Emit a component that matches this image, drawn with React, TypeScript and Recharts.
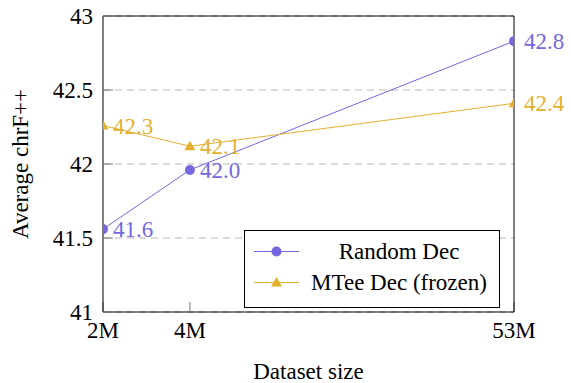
import {
  LineChart,
  Line,
  XAxis,
  YAxis,
  CartesianGrid,
  Legend,
  LabelList,
} from "recharts";

const datasetSizes = [2, 4, 53];
const randomDec = [41.56, 41.96, 42.83];
const mteeDec = [42.26, 42.12, 42.41];
const xTicks = [2, 4, 53];
const yTicks = [41, 41.5, 42, 42.5, 43];

const PURPLE = "#7467e0";
const GOLD = "#e3b030";
const FONT = "'Liberation Serif', 'DejaVu Serif', serif";

const data = datasetSizes.map((size, i) => ({
  size,
  random: randomDec[i],
  mtee: mteeDec[i],
}));

function Triangle(props: any) {
  const { cx, cy, index } = props;
  if (cx == null || cy == null) return null;
  return (
    <polygon
      key={`tri-${index}`}
      points={`${cx - 5.5},${cy + 4} ${cx + 5.5},${cy + 4} ${cx},${cy - 5.5}`}
      fill={GOLD}
    />
  );
}

function LegendBox() {
  const rows = [
    { name: "Random Dec", color: PURPLE, shape: "circle" },
    { name: "MTee Dec (frozen)", color: GOLD, shape: "triangle" },
  ];
  return (
    <div
      style={{
        width: 254,
        height: 71,
        border: "1px solid #000",
        background: "#fff",
        paddingTop: 5,
        boxSizing: "content-box",
        fontFamily: FONT,
        fontSize: 23,
        color: "#000",
      }}
    >
      {rows.map((r) => (
        <div key={r.name} style={{ display: "flex", alignItems: "center", height: 31 }}>
          <svg width={54} height={31} style={{ flex: "none" }}>
            <line x1={9} x2={54} y1={15.5} y2={15.5} stroke={r.color} strokeWidth={1} />
            {r.shape === "circle" ? (
              <circle cx={31.5} cy={15.5} r={5} fill={r.color} />
            ) : (
              <polygon points="26,19.5 37,19.5 31.5,10" fill={r.color} />
            )}
          </svg>
          <span style={{ flex: 1, textAlign: "center", lineHeight: "31px" }}>{r.name}</span>
        </div>
      ))}
    </div>
  );
}

export default function App() {
  return (
    <div style={{ position: "absolute", left: 0, top: 0, background: "#fff", fontFamily: FONT }}>
      <LineChart
        width={571}
        height={383}
        data={data}
        margin={{ top: 15, right: 56, bottom: 31, left: 0 }}
        style={{ fontFamily: FONT }}
      >
        <CartesianGrid vertical={false} stroke="#b8b8b8" strokeDasharray="7 5" />
        <XAxis
          dataKey="size"
          type="number"
          scale="log"
          domain={[2, 53]}
          ticks={xTicks}
          tickFormatter={(v: number) => `${v}M`}
          height={40}
          axisLine={{ stroke: "#000" }}
          tickLine={{ stroke: "#777" }}
          tickSize={-10}
          tickMargin={20}
          tick={{ fill: "#000", fontSize: 23, style: { fontFamily: FONT } }}
          interval={0}
          allowDataOverflow
          label={{
            value: "Dataset size",
            position: "bottom",
            offset: 11,
            fill: "#000",
            fontSize: 23,
            style: { fontFamily: FONT },
          }}
        />
        <XAxis
          xAxisId="top"
          orientation="top"
          dataKey="size"
          type="number"
          scale="log"
          domain={[2, 53]}
          ticks={xTicks}
          height={1}
          axisLine={{ stroke: "#000" }}
          tickLine={{ stroke: "#777" }}
          tickSize={-10}
          tick={false}
          interval={0}
          allowDataOverflow
        />
        <YAxis
          type="number"
          domain={[41, 43]}
          ticks={yTicks}
          width={103}
          axisLine={{ stroke: "#000" }}
          tickLine={{ stroke: "#777" }}
          tickSize={-10}
          tickMargin={20}
          tick={{ fill: "#000", fontSize: 23, style: { fontFamily: FONT } }}
          interval={0}
          allowDataOverflow
          label={{
            value: "Average chrF++",
            angle: -90,
            position: "insideLeft",
            offset: 20,
            fill: "#000",
            fontSize: 23,
            style: { textAnchor: "middle", fontFamily: FONT },
          }}
        />
        <YAxis
          yAxisId="right"
          orientation="right"
          type="number"
          domain={[41, 43]}
          ticks={yTicks}
          width={1}
          axisLine={{ stroke: "#000" }}
          tickLine={{ stroke: "#777" }}
          tickSize={-10}
          tick={false}
          interval={0}
          allowDataOverflow
        />
        <Legend
          layout="vertical"
          align="center"
          verticalAlign="middle"
          content={() => <LegendBox />}
          wrapperStyle={{ position: "absolute", left: 244, top: 230, width: "auto", height: "auto" }}
        />
        <Line
          dataKey="random"
          name="Random Dec"
          stroke={PURPLE}
          strokeWidth={1}
          dot={{ r: 5, fill: PURPLE, stroke: "none" }}
          activeDot={false}
          isAnimationActive={false}
        >
          <LabelList
            dataKey="random"
            position="right"
            offset={10}
            formatter={(v: any) => Number(v).toFixed(1)}
            fill={PURPLE}
            fontSize={23}
            style={{ fontFamily: FONT }}
          />
        </Line>
        <Line
          dataKey="mtee"
          name="MTee Dec (frozen)"
          stroke={GOLD}
          strokeWidth={1}
          dot={Triangle}
          activeDot={false}
          isAnimationActive={false}
        >
          <LabelList
            dataKey="mtee"
            position="right"
            offset={10}
            formatter={(v: any) => Number(v).toFixed(1)}
            fill={GOLD}
            fontSize={23}
            style={{ fontFamily: FONT }}
          />
        </Line>
      </LineChart>
    </div>
  );
}
